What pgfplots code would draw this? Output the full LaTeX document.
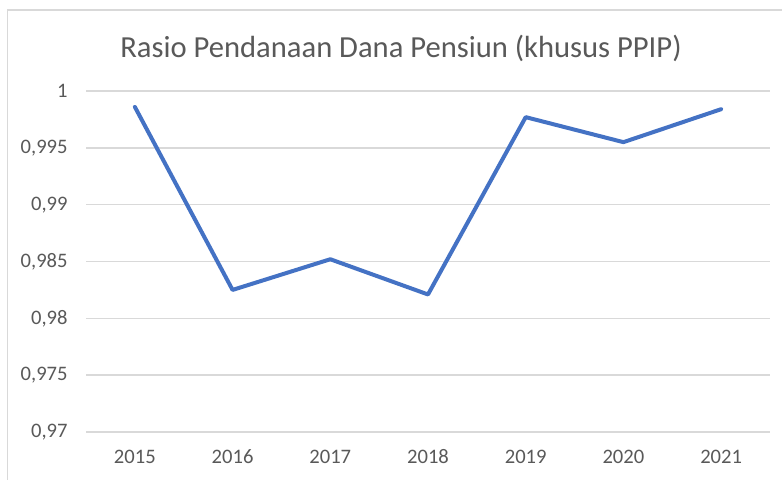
\documentclass[border=0pt]{standalone}
\usepackage{pgfplots}
\pgfplotsset{compat=1.18}
\usepackage{fontspec}
\setmainfont{Carlito}
\definecolor{txtgray}{HTML}{595959}
\definecolor{gridgray}{HTML}{D9D9D9}
\definecolor{framegray}{HTML}{D9D9D9}
\definecolor{lineblue}{HTML}{4472C4}
\begin{document}
\begin{tikzpicture}[x=1pt,y=1pt]
\begin{axis}[
  at={(43pt,23.5pt)}, anchor=south west,
  scale only axis, width=342pt, height=170.5pt,
  xmin=2014.5, xmax=2021.5,
  ymin=0.97, ymax=1,
  xtick={2015,2016,2017,2018,2019,2020,2021},
  xticklabels={2015,2016,2017,2018,2019,2020,2021},
  ytick={0.97,0.975,0.98,0.985,0.99,0.995,1},
  yticklabels={{0,97},{0,975},{0,98},{0,985},{0,99},{0,995},{1}},
  axis line style={draw=none},
  major tick length=0pt,
  ymajorgrids,
  grid style={draw=gridgray, line width=0.8pt},
  tick label style={font=\fontsize{10.3}{12}\selectfont, text=txtgray},
  yticklabel style={inner sep=0pt, anchor=east, xshift=-9pt},
  xticklabel style={inner sep=0pt, anchor=base, yshift=-15.6pt},
  clip=false,
]
\addplot[color=lineblue, line width=2pt, line join=round, line cap=round] coordinates {
  (2015,0.9986) (2016,0.9825) (2017,0.9852) (2018,0.9821) (2019,0.9977) (2020,0.9955) (2021,0.9984)
};
\end{axis}
\node[anchor=base, text=txtgray, inner sep=0pt] at (200.5pt,211pt) {\fontsize{15.3}{18}\selectfont Rasio Pendanaan Dana Pensiun (khusus PPIP)};
\draw[framegray, line width=0.8pt] (3.75pt,-20pt) -- (3.75pt,234.5pt) -- (420pt,234.5pt);
\pgfresetboundingbox
\useasboundingbox (0,0) rectangle (391pt,239.5pt);
\end{tikzpicture}
\end{document}
